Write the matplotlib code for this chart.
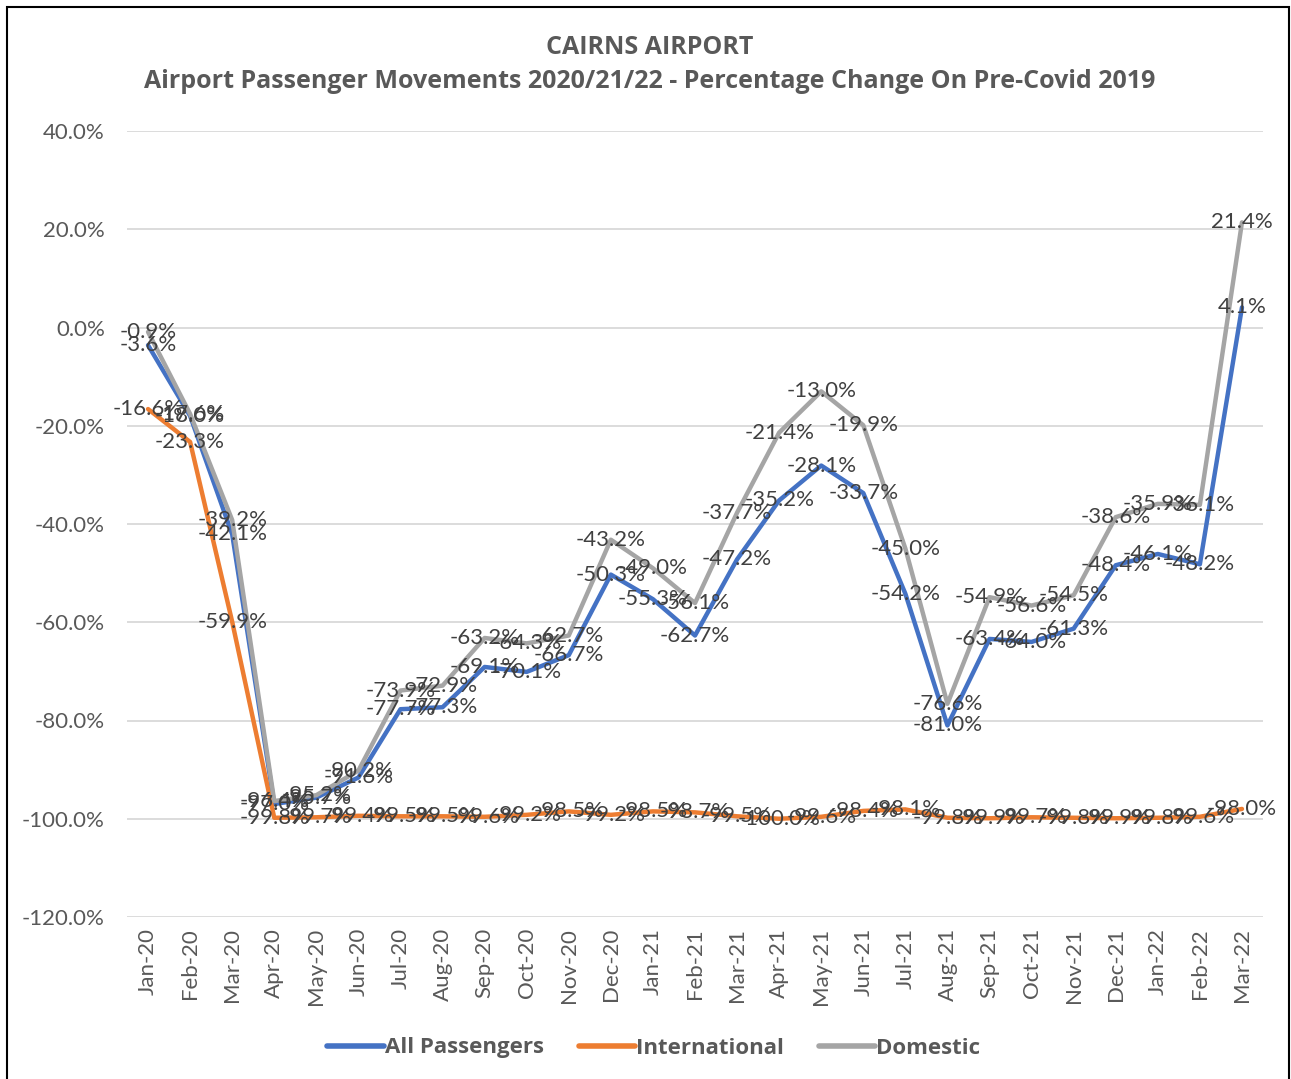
import matplotlib
matplotlib.use("Agg")
import matplotlib.pyplot as plt
from matplotlib.patches import Rectangle
from matplotlib.ticker import FuncFormatter

plt.rcParams["font.family"] = ["Lato", "DejaVu Sans"]
BOLD = ["Open Sans", "DejaVu Sans"]

months = ["Jan-20", "Feb-20", "Mar-20", "Apr-20", "May-20", "Jun-20", "Jul-20",
          "Aug-20", "Sep-20", "Oct-20", "Nov-20", "Dec-20", "Jan-21", "Feb-21",
          "Mar-21", "Apr-21", "May-21", "Jun-21", "Jul-21", "Aug-21", "Sep-21",
          "Oct-21", "Nov-21", "Dec-21", "Jan-22", "Feb-22", "Mar-22"]

all_pax = [-3.6, -18.0, -42.1, -97.0, -95.7, -91.6, -77.7, -77.3, -69.1, -70.1,
           -66.7, -50.3, -55.3, -62.7, -47.2, -35.2, -28.1, -33.7, -54.2, -81.0,
           -63.4, -64.0, -61.3, -48.4, -46.1, -48.2, 4.1]
international = [-16.6, -23.3, -59.9, -99.8, -99.7, -99.4, -99.5, -99.5, -99.6,
                 -99.2, -98.5, -99.2, -98.5, -98.7, -99.5, -100.0, -99.6, -98.4,
                 -98.1, -99.8, -99.9, -99.7, -99.8, -99.9, -99.8, -99.6, -98.0]
domestic = [-0.9, -17.6, -39.2, -96.4, -95.2, -90.2, -73.9, -72.9, -63.2, -64.3,
            -62.7, -43.2, -49.0, -56.1, -37.7, -21.4, -13.0, -19.9, -45.0, -76.6,
            -54.9, -56.6, -54.5, -38.6, -35.9, -36.1, 21.4]

series = [("All Passengers", all_pax, "#4472C4"),
          ("International", international, "#ED7D31"),
          ("Domestic", domestic, "#A5A5A5")]

W, H = 1291, 1079
fig = plt.figure(figsize=(W / 100, H / 100), dpi=100)
ax = fig.add_axes([127 / W, (H - 917) / H, (1263 - 127) / W, (917 - 131) / H])

x = list(range(len(months)))
for name, vals, col in series:
    ax.plot(x, vals, color=col, linewidth=3.2, label=name,
            solid_joinstyle="round", solid_capstyle="round", zorder=3)

# Excel-style centred data labels
for name, vals, col in series:
    for xi, v in zip(x, vals):
        ax.text(xi, v, f"{v:.1f}%", ha="center", va="center",
                fontsize=16, color="#404040", zorder=5)

ax.set_xlim(-0.5, len(months) - 0.5)
ax.set_ylim(-120, 40)
ax.set_yticks(range(-120, 41, 20))
ax.yaxis.set_major_formatter(FuncFormatter(lambda v, p: f"{v:.1f}%"))
ax.set_xticks(x)
ax.set_xticklabels(months, rotation=90)
ax.tick_params(axis="both", length=0, labelsize=16, labelcolor="#595959")
ax.tick_params(axis="x", pad=8)
ax.tick_params(axis="y", pad=16)
ax.grid(axis="y", color="#D9D9D9", linewidth=1.3)
ax.set_axisbelow(True)
for s in ax.spines.values():
    s.set_visible(False)

fig.text(650 / W, 1 - 47 / H, "CAIRNS AIRPORT", ha="center", va="center",
         fontsize=18, fontweight="bold", color="#595959", family=BOLD)
fig.text(650 / W, 1 - 82 / H,
         "Airport Passenger Movements 2020/21/22 - Percentage Change On Pre-Covid 2019",
         ha="center", va="center", fontsize=18, fontweight="bold", color="#595959",
         family=BOLD)

leg = fig.legend(loc="center", bbox_to_anchor=(654 / W, 1 - 1048 / H), ncol=3,
                 frameon=False, handlelength=2.55, handletextpad=0.05,
                 columnspacing=1.55,
                 prop={"family": BOLD, "weight": "bold", "size": 16})
for t in leg.get_texts():
    t.set_color("#595959")
for h in leg.legend_handles:
    h.set_linewidth(4)

fig.patches.append(Rectangle((7 / W, -0.01), (1289 - 7) / W, 1 - 7 / H + 0.01,
                             transform=fig.transFigure, fill=False,
                             edgecolor="black", linewidth=1.5))

fig.savefig("out.png", dpi=100, facecolor="white")
